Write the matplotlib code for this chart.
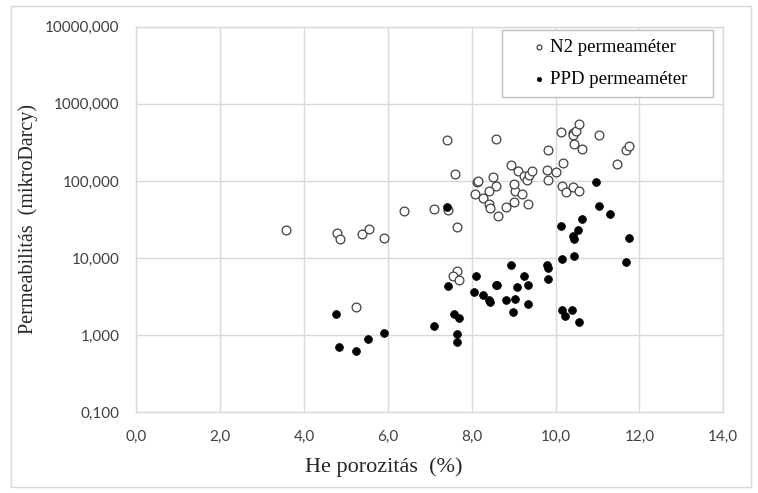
import matplotlib
matplotlib.use("Agg")
import matplotlib.pyplot as plt
from matplotlib.patches import Rectangle
from matplotlib.ticker import FixedLocator, FixedFormatter

# He porosity (%) and permeability (microDarcy), N2 permeameter
n2_porosity = [3.56, 4.78, 4.86, 5.39, 5.54, 5.91, 5.24, 6.38, 7.11, 7.44,
               7.41, 7.60, 7.64, 7.64, 7.56, 7.70, 8.59, 8.94, 9.10, 8.51,
               8.12, 8.16, 8.58, 8.42, 8.08, 8.28, 8.42, 8.44, 8.62, 8.82,
               9.01, 9.04, 9.02, 9.20, 9.35, 9.25, 9.31, 9.37, 9.44, 9.83,
               9.80, 9.83, 10.00, 10.17, 10.13, 10.42, 10.41, 10.48, 10.55, 10.44,
               10.63, 11.04, 11.46, 11.68, 11.76, 10.15, 10.25, 10.41, 10.57]
n2_perm = [23, 21.4, 17.9, 20.4, 24, 18.2, 2.34, 41.2, 43, 42,
           337, 124, 25.3, 6.7, 5.9, 5.2, 354, 163, 135, 112,
           98, 101, 86, 75, 68, 60, 50, 44, 35, 46,
           54, 73, 91, 68, 50, 116, 103, 121, 135, 255,
           140, 103, 132, 170, 436, 423, 391, 445, 548, 299,
           260, 399, 165, 250, 287, 86, 72, 83, 73]

# PPD permeameter
ppd_porosity = [7.40, 4.77, 4.84, 5.23, 5.53, 5.90, 7.43, 7.58, 7.69, 7.10,
                7.64, 7.64, 8.10, 8.06, 8.28, 8.41, 8.44, 8.58, 8.61, 8.93,
                8.81, 9.03, 8.99, 9.09, 9.25, 9.34, 9.34, 9.79, 9.83, 9.82,
                10.15, 10.43, 11.67, 10.15, 10.22, 10.40, 10.57, 10.96, 11.03, 11.30,
                10.62, 10.12, 10.54, 10.41, 10.44, 11.75]
ppd_perm = [46, 1.90, 0.70, 0.62, 0.89, 1.06, 4.39, 1.87, 1.69, 1.33,
            1.04, 0.81, 5.9, 3.63, 3.32, 2.86, 2.72, 4.48, 4.52, 8.1,
            2.86, 2.92, 1.98, 4.25, 5.9, 4.48, 2.56, 8.15, 7.45, 5.36,
            9.6, 10.7, 8.9, 2.12, 1.79, 2.12, 1.47, 96, 48, 37,
            31.8, 26, 23, 19.4, 17.7, 18.4]

x_ticks = [0, 2, 4, 6, 8, 10, 12, 14]
x_tick_labels = ["0,0", "2,0", "4,0", "6,0", "8,0", "10,0", "12,0", "14,0"]
y_ticks = [0.1, 1, 10, 100, 1000, 10000]
y_tick_labels = ["0,100", "1,000", "10,000", "100,000", "1000,000", "10000,000"]

W, H = 758, 493
fig = plt.figure(figsize=(W / 100, H / 100), dpi=100)
ax = fig.add_axes([136.3 / W, 1 - 412.3 / H, (723.3 - 136.3) / W, (412.3 - 26.7) / H])

grid_c = "#d9d9d9"
ax.set_yscale("log")
ax.set_xlim(0, 14)
ax.set_ylim(0.1, 10000)
ax.xaxis.set_major_locator(FixedLocator(x_ticks))
ax.xaxis.set_major_formatter(FixedFormatter(x_tick_labels))
ax.yaxis.set_major_locator(FixedLocator(y_ticks))
ax.yaxis.set_major_formatter(FixedFormatter(y_tick_labels))
ax.yaxis.set_minor_locator(FixedLocator([]))
ax.grid(True, which="major", color=grid_c, lw=1.0)
ax.set_axisbelow(True)
for s in ax.spines.values():
    s.set_color(grid_c)
    s.set_linewidth(1.0)

ax.tick_params(axis="both", length=0, labelsize=11, colors="#404040")
ax.tick_params(axis="x", pad=13)
ax.tick_params(axis="y", pad=12)
for lab in ax.get_xticklabels() + ax.get_yticklabels():
    lab.set_family("Lato")

ax.scatter(n2_porosity, n2_perm, s=40, facecolor="white", edgecolor="#404040",
           linewidths=0.9, label="N2 permeaméter", zorder=3)
ax.scatter(ppd_porosity, ppd_perm, s=32, facecolor="black", edgecolor="black",
           linewidths=0.5, label="PPD permeaméter", zorder=4)

serif = ["Liberation Serif", "DejaVu Serif"]
fig.text(384 / W, 1 - 467 / H, "He porozitás  (%)", family=serif, size=16,
         color="#262626", ha="center", va="center")
fig.text(28 / W, 1 - 219 / H, "Permeabilitás  (mikroDarcy)", family=serif, size=14.5,
         color="#262626", ha="center", va="center", rotation=90)

# Legend: frameless entries on top of a separately drawn box
box_l, box_t, box_r, box_b = 501.7, 30, 713, 96.7
leg = ax.legend(loc="center", bbox_to_anchor=((box_l + box_r) / 2 / W + 0.004,
                                               1 - (box_t + box_b) / 2 / H),
                bbox_transform=fig.transFigure, borderaxespad=0, borderpad=0,
                prop=dict(family=serif, size=13.5), markerscale=0.55,
                handlelength=0.6, handletextpad=0.3, labelspacing=0.75,
                frameon=False)
leg.set_zorder(7)
ax.add_patch(Rectangle((box_l / W, 1 - box_b / H), (box_r - box_l) / W,
                       (box_b - box_t) / H, transform=fig.transFigure, clip_on=False,
                       facecolor="white", edgecolor="#bfbfbf", lw=1.0, zorder=6))

fig.patches.append(Rectangle((11 / W, 6 / H), (751 - 11) / W, (487 - 6) / H,
                             transform=fig.transFigure, fill=False,
                             edgecolor="#d9d9d9", lw=1.0))

fig.savefig("out.png", dpi=100)
